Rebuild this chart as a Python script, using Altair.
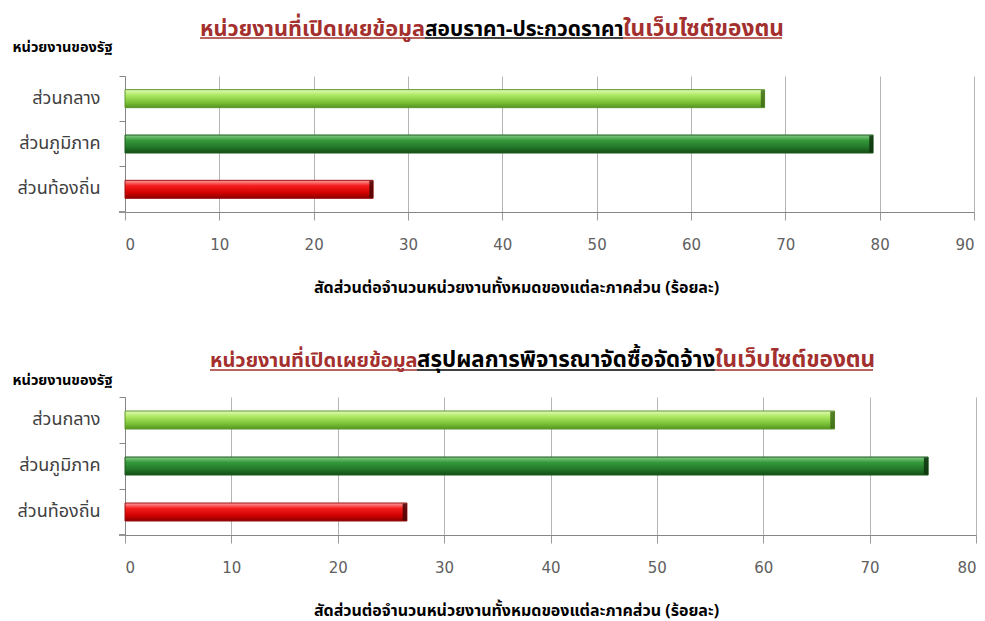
import altair as alt
import pandas as pd

categories = ["ส่วนกลาง", "ส่วนภูมิภาค", "ส่วนท้องถิ่น"]
bid_values = [67.8, 79.3, 26.3]
summary_values = [66.7, 75.5, 26.5]

title1_parts = ["หน่วยงานที่เปิดเผยข้อมูล", "สอบราคา-ประกวดราคา", "ในเว็บไซต์ของตน"]
title2_parts = ["หน่วยงานที่เปิดเผยข้อมูล", "สรุปผลการพิจารณาจัดซื้อจัดจ้าง", "ในเว็บไซต์ของตน"]
y_title = "หน่วยงานของรัฐ"
x_title = "สัดส่วนต่อจำนวนหน่วยงานทั้งหมดของแต่ละภาคส่วน (ร้อยละ)"
ticks1 = list(range(0, 91, 10))
ticks2 = list(range(0, 81, 10))

FONT = "Noto Sans Thai, Tahoma, DejaVu Sans, sans-serif"
RED = "#a3302e"
PART_COLORS = [RED, "#000000", RED]

bar_styles = [
    (["#e2fbb8", "#aee864", "#7cc238", "#559421"], "#5f962c", "#3f6a18"),
    (["#86cc86", "#35983a", "#22752a", "#144d14"], "#1c5a1c", "#0e330e"),
    (["#ffa0a0", "#f51e1e", "#d00000", "#8a0000"], "#9a1010", "#4a0606"),
]


def grad(cols):
    return alt.Gradient(
        gradient="linear",
        stops=[alt.GradientStop(color=c, offset=o) for c, o in zip(cols, [0, 0.3, 0.7, 1])],
        x1=0, x2=0, y1=0, y2=1,
    )


def panel(values, ticks, xmax, W, H, parts, starts, ends, sizes, ty, uy, yty):
    df = pd.DataFrame({"cat": categories, "val": values})
    base = alt.Chart(df)
    yenc = alt.Y(
        "cat:N",
        sort=categories,
        scale=alt.Scale(domain=categories, paddingInner=0, paddingOuter=0),
        axis=alt.Axis(
            title=y_title, titleAngle=0, titleAlign="left", titleBaseline="middle",
            titleX=-113, titleY=yty, titleFont=FONT, titleFontSize=14.5, titleFontWeight="bold",
            titleColor="#000000",
            labelFont=FONT, labelFontSize=18, labelColor="#404040", labelPadding=19,
            bandPosition=0, tickSize=6, tickColor="#868686", domainColor="#868686",
            grid=False,
        ),
    )
    xenc = alt.X(
        "val:Q",
        scale=alt.Scale(domain=[0, xmax], nice=False),
        axis=alt.Axis(
            values=ticks, title=x_title, titleFont=FONT, titleFontSize=16,
            titleFontWeight="bold", titleColor="#000000", titlePadding=27,
            titleX=391, titleAlign="center",
            labelFont="DejaVu Sans", labelFontSize=15, labelColor="#606060", labelPadding=17,
            tickSize=8, tickColor="#9a9a9a", domainColor="#868686",
            grid=True, gridColor="#b5b5b5",
        ),
    )
    layers = []
    for c, (cols, stroke, cap) in zip(categories, bar_styles):
        sub = base.transform_filter(alt.datum.cat == c)
        layers.append(
            sub.mark_bar(height=18, color=grad(cols), stroke=stroke, strokeWidth=1)
            .encode(x=xenc, y=yenc)
        )
        layers.append(
            sub.transform_calculate(cap_start="datum.val - 0.4")
            .mark_bar(height=17, color=cap, opacity=0.85)
            .encode(x=alt.X("cap_start:Q"), x2="val:Q", y=yenc)
        )
    layers.append(
        base.mark_rule(color="#868686").encode(
            x=alt.value(-6), x2=alt.value(0), y=alt.value(H)
        )
    )
    t = alt.Chart(pd.DataFrame({"a": [0]}))
    for text, x0, x1, fs, col in zip(parts, starts, ends, sizes, PART_COLORS):
        layers.append(t.mark_text(align="left", baseline="alphabetic", font=FONT, fontSize=fs,
                                  fontWeight="bold", color=col, text=text).encode(
            x=alt.value(x0), y=alt.value(ty)))
        layers.append(t.mark_rule(color=col, strokeWidth=1.6).encode(
            x=alt.value(x0), x2=alt.value(x1), y=alt.value(uy)))
    return alt.layer(*layers).properties(width=W, height=H)


top = panel(bid_values, ticks1, 90, 849, 136, title1_parts,
            [75, 300, 498], [300, 498, 657], [21.7, 20.9, 22.7], -40, -38, -29)
bottom = panel(summary_values, ticks2, 80, 851, 138, title2_parts,
               [85, 292, 590], [292, 590, 748], [20, 22.3, 22.6], -30, -27, -17)

chart = alt.vconcat(top, bottom, spacing=54).configure(
    padding={"left": 12, "top": 18, "right": 5, "bottom": 5}
).configure_view(stroke=None)

chart.save("out.html", embed_options={"renderer": "svg", "actions": False})
